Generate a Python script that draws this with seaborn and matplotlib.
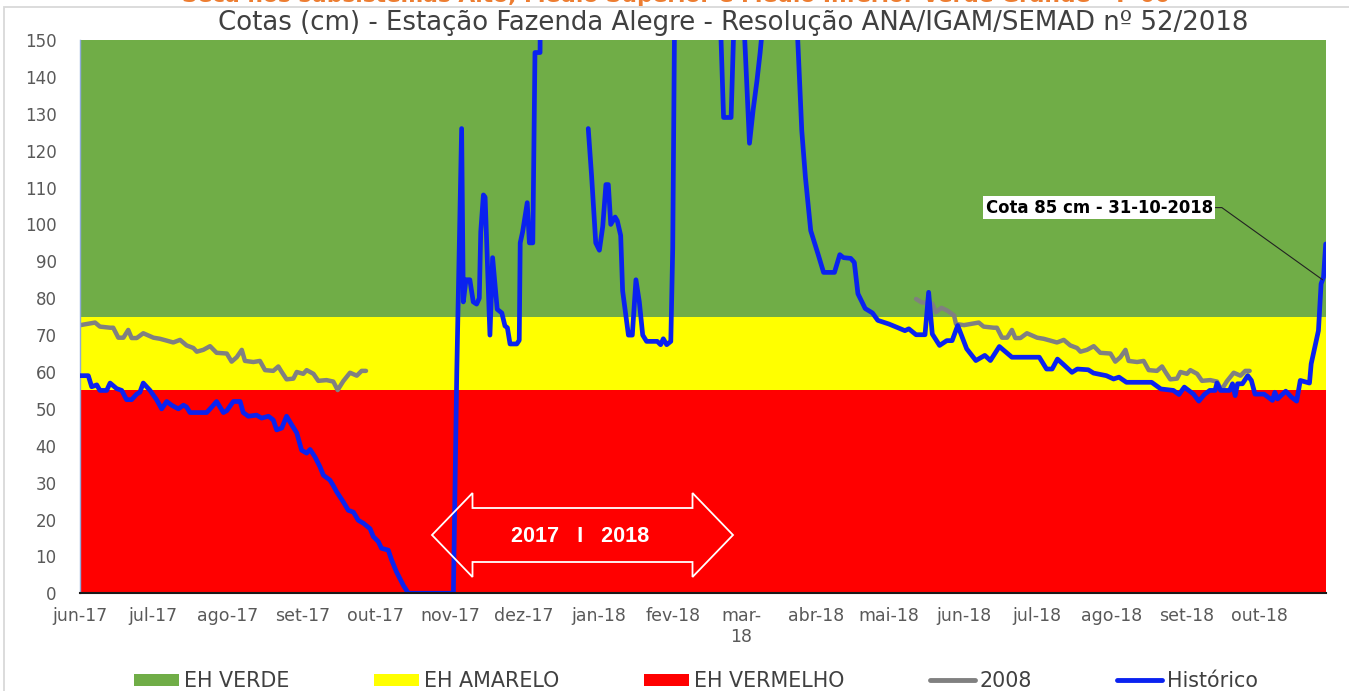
import numpy as np
import pandas as pd
import matplotlib
matplotlib.use("Agg")
import matplotlib.pyplot as plt
import matplotlib.dates as mdates
from matplotlib.patches import Patch, Rectangle, Polygon
from matplotlib.lines import Line2D
import seaborn as sns

# ---------------------------------------------------------------- data
inicio = pd.Timestamp("2017-06-01")
dias_eixo = 514.4            # last day shown on the axis (days after 2017-06-01)

meses_rotulos = ["jun-17", "jul-17", "ago-17", "set-17", "out-17", "nov-17",
                 "dez-17", "jan-18", "fev-18", "mar-\n18", "abr-18", "mai-18",
                 "jun-18", "jul-18", "ago-18", "set-18", "out-18"]
meses_inicio = pd.date_range("2017-06-01", "2018-10-01", freq="MS")
y_ticks = list(range(0, 151, 10))

# Estados hidrológicos (limites, cm)
eh_nomes = ["EH VERDE", "EH AMARELO", "EH VERMELHO"]
eh_inferior = [75, 55, 0]
eh_superior = [150, 75, 55]

# Série 2008 (dias relativos a 1º de junho), repetida em cada ano
serie2008_dia = [-19.8, -17.6, -13.1, -11.6, -9.3, -6.8, -4.1, -3.3,
                 0, 2.6, 6.1, 8.1, 12.3, 13.6, 15.7, 17.8, 19.8, 21.2,
                 23.3, 26.0, 30.2, 32.9, 35.7, 38.4, 41.2, 43.9, 46.7, 48.1,
                 50.8, 53.6, 56.3, 60.5, 62.5, 64.6, 66.7, 68.0, 71.5, 74.2,
                 76.3, 79.7, 81.8, 83.2, 85.2, 88.0, 89.4, 92.1, 93.5, 96.3,
                 98.3, 101.7, 104.5, 106.3, 108.6, 111.4, 114.2, 116.2, 118.0]
serie2008_cota = [79.8, 78.9, 78.5, 76.2, 77.4, 76.6, 75.3, 73,
                  72.7, 73, 73.4, 72.3, 72, 72, 69.3, 69.3, 71.4, 69.2,
                  69.2, 70.5, 69.3, 69, 68.5, 68, 68.7, 67.2, 66.5, 65.5,
                  66, 67, 65.2, 65, 62.8, 64, 66, 63, 62.7, 63,
                  60.5, 60.3, 61.5, 60, 58, 58.2, 60, 59.5, 60.5, 59.5,
                  57.6, 57.8, 57.4, 55.1, 57.5, 59.8, 59, 60.3, 60.3]
serie2008_anos = [2017, 2018]

# Série histórica (dias após 2017-06-01); NaN = falha de dados
hist_dia = [0, 3.3, 4.7, 6.8, 8.1, 10.9, 12.3, 15.0, 17.1, 19.1, 21.2, 23.3,
            24.6, 26.0, 28.8, 31.5, 33.6, 35.7, 37.7, 40.5, 42.6, 43.9, 45.3,
            52.2, 54.3, 56.3, 59.1, 60.5, 63.2, 66.0, 67.3, 69.4, 72.8, 74.9,
            77.7, 79.7, 81.1, 83.2, 85.2, 87.3, 89.4, 91.4, 93.5, 94.9, 96.9,
            99.0, 100.4, 103.1, 104.5, 105.9, 108.6, 110.7, 112.8, 114.8,
            116.9, 119.7, 121.0, 123.1, 124.4, 127.2, 128.6, 130.6, 133.4,
            135.5, 154.1,
            155.5, 157.5, 158.2, 159.3, 160.9, 162.3, 163.7, 164.8, 165.4,
            166.5, 167.2, 169.2, 170.3, 172.2, 174.1, 175.4, 176.4, 177.5,
            180.3, 181.3, 181.7, 182.7, 184.6, 185.5, 186.9, 187.8, 189.9,
            190.3,
            200.0,
            209.8, 211.2, 212.9, 214.4, 215.8, 217.1, 218.1, 219.1, 220.9,
            221.8, 223.2, 224.0, 226.4, 228.0, 229.5, 230.9, 232.3, 233.9,
            238.3, 239.7, 240.8, 242.2, 243.9, 244.7, 246.0,
            264.4, 265.7, 268.8, 270.0, 274.1, 276.4, 277.9, 279.5, 280.8,
            282.0, 296.0,
            298.0, 299.5, 301.7, 304.7, 307.0, 311.5, 313.7, 315.2, 318.2,
            319.7, 321.2, 324.2, 327.2, 329.4, 334.0, 337.7, 340.6, 342.2,
            345.2, 348.9, 350.4, 351.9, 354.9, 357.9, 360.1, 362.4, 366.1,
            369.9, 373.6, 375.9, 379.6, 384.8, 396.1, 399.1, 401.4, 403.6,
            405.8, 409.6, 411.8, 416.3, 418.5, 423.8, 426.8, 429.0, 432.1,
            442.5, 446.3, 451.5, 453.8, 456.0, 459.8, 462.0, 464.3, 466.5,
            468.7, 469.5, 471.0, 474.7, 475.9, 477.0, 478.0, 480.0, 482.2,
            483.7, 485.2, 488.9, 492.4, 493.4, 494.5, 497.9, 500.2, 502.4,
            503.9, 507.7, 508.4, 511.4, 512.5, 513.5, 514.4]
hist_cota = [59, 59, 56, 56.5, 55, 55, 57, 55.5, 55, 52.5, 52.5, 54,
             54.5, 57, 55, 52.5, 50, 52, 51, 50, 51, 50.5, 49,
             49, 50.5, 52, 49, 49.5, 52, 52, 49, 48, 48.3, 47.5,
             48, 47, 44.3, 44.8, 48, 45.7, 43.5, 38.8, 38, 39, 37,
             34.3, 32, 30.7, 29.2, 27.5, 24.8, 22.5, 22, 19.8,
             19, 17.5, 15.4, 14, 12.2, 11.7, 9, 5.8, 2.2,
             0, 0,
             60, 126, 79, 85, 85, 79, 78.4, 80, 98,
             108, 107.4, 70, 91, 77, 76, 72.5, 72, 67.6,
             67.6, 68.6, 95, 98, 105.9, 95, 95, 146.6, 146.6,
             200,
             np.nan,
             126, 113, 95, 93, 99.5, 110.8, 110.8, 100, 102,
             101, 97, 82, 70, 70, 85, 79, 70, 68.3,
             68.3, 67.4, 69, 67.4, 68.3, 93.6, 200,
             155, 129, 129, 155, 155, 122, 131, 139, 146.6,
             155, 155,
             125.4, 112.8, 98.3, 92, 87, 87, 91.8, 91, 90.8,
             89.7, 81.2, 77.2, 76, 74, 73, 72, 71.2, 71.7,
             70.1, 70.1, 81.6, 70.3, 67.2, 68.5, 68.5, 72.6, 66.3,
             63.1, 64.5, 63.1, 66.9, 64, 64, 60.8, 60.8, 63.5,
             62.2, 59.9, 60.8, 60.6, 59.7, 59, 58.1, 58.6, 57.2,
             57.2, 55.4, 55, 53.9, 55.9, 54, 52.1, 53.9, 55,
             55, 57, 55, 55, 56.8, 53.6, 56.8, 56.8, 59,
             57.7, 54, 54, 52.3, 54.5, 52.7, 54.8, 53.2, 52.1,
             57.7, 57, 62.2, 71.2, 83.9, 85.7, 94.7]
assert len(hist_dia) == len(hist_cota)
assert len(serie2008_dia) == len(serie2008_cota)

cota_anotada = 85
texto_anotacao = "Cota 85 cm - 31-10-2018"
texto_periodo = "2017   I   2018"
titulo = "Cotas (cm) - Estação Fazenda Alegre - Resolução ANA/IGAM/SEMAD nº 52/2018"
sobretitulo = "Seca nos subsistemas Alto, Médio Superior e Médio Inferior Verde Grande – P 00"
legenda_rotulos = ["EH VERDE", "EH AMARELO", "EH VERMELHO", "2008", "Histórico"]

# ---------------------------------------------------------------- style
COR_VERDE = "#70AD47"
COR_AMARELO = "#FFFF00"
COR_VERMELHO = "#FF0000"
COR_CINZA = "#808080"
COR_AZUL = "#0A22F0"
cores_eh = [COR_VERDE, COR_AMARELO, COR_VERMELHO]

sns.set_style("white")
plt.rcParams["font.family"] = ["DejaVu Sans"]

W, H = 1349, 691
fig = plt.figure(figsize=(W / 100, H / 100), dpi=100)
L, R, T, B = 80.3, 1325.7, 40.0, 593.3
ax = fig.add_axes([L / W, 1 - B / H, (R - L) / W, (B - T) / H])
renderer = fig.canvas.get_renderer()


def ajustar(texto, largura_px, **kw):
    t = fig.text(0, 0, texto, fontsize=10, **kw)
    w = t.get_window_extent(renderer=renderer).width
    t.remove()
    return 10 * largura_px / w


fim = inicio + pd.Timedelta(days=dias_eixo)

# faixas de estado hidrológico
for nome, lo, hi, cor in zip(eh_nomes, eh_inferior, eh_superior, cores_eh):
    ax.fill_between([inicio, fim], lo, hi, color=cor, lw=0, zorder=0)

# série 2008 (repetida para 2017 e 2018)
df08 = pd.concat([
    pd.DataFrame({
        "data": pd.Timestamp(f"{a}-06-01") + pd.to_timedelta(serie2008_dia, unit="D"),
        "cota": serie2008_cota,
        "ano": a,
    }) for a in serie2008_anos
])
sns.lineplot(data=df08, x="data", y="cota", units="ano", estimator=None,
             color=COR_CINZA, lw=3.2, ax=ax, legend=False, sort=False,
             solid_joinstyle="round", solid_capstyle="round", zorder=2)

# série histórica
hist = pd.DataFrame({"dia": hist_dia, "cota": hist_cota})
hist["trecho"] = hist["cota"].isna().cumsum()
hist = hist.dropna()
hist["data"] = inicio + pd.to_timedelta(hist["dia"], unit="D")
sns.lineplot(data=hist, x="data", y="cota", units="trecho", estimator=None,
             color=COR_AZUL, lw=3.4, ax=ax, legend=False, sort=False,
             solid_joinstyle="round", solid_capstyle="round", zorder=3)

# eixos
ax.set_xlim(inicio, fim)
ax.set_ylim(0, 150)
ax.set_xticks(meses_inicio)
ax.set_xticklabels(meses_rotulos)
ax.set_yticks(y_ticks)
ax.set_xlabel("")
ax.set_ylabel("")
ax.minorticks_off()
ax.tick_params(axis="x", direction="out", length=4, width=1.3, color="#262626",
               pad=6, labelsize=12.5, labelcolor="#595959")
ax.tick_params(axis="y", direction="out", length=6, width=1.0, color="#8EA9DB",
               pad=11, labelsize=12, labelcolor="#595959")
for s in ["top", "right"]:
    ax.spines[s].set_visible(False)
ax.spines["left"].set_color("#8EA9DB")
ax.spines["left"].set_linewidth(1.0)
ax.spines["bottom"].set_color("#1a1a1a")
ax.spines["bottom"].set_linewidth(1.5)
ax.spines["bottom"].set_zorder(5)

# seta dupla "2017 I 2018"
cx, cy = (582.5 - L) / (R - L), (B - 535) / (B - T)
sx, sy = 1 / (R - L), 1 / (B - T)
forma = [(-110, -27), (110, -27), (110, -42), (150.5, 0), (110, 42), (110, 27),
         (-110, 27), (-110, 42), (-150.5, 0), (-110, -42)]
ax.add_patch(Polygon([(cx + x * sx, cy + y * sy) for x, y in forma], closed=True,
                     fill=False, ec="white", lw=1.3, transform=ax.transAxes,
                     zorder=4))
fs_periodo = ajustar(texto_periodo, 138, family="Liberation Sans", fontweight="bold")
ax.text((580 - L) / (R - L), (B - 537) / (B - T), texto_periodo, transform=ax.transAxes,
        ha="center", va="center", color="white", fontweight="bold",
        family="Liberation Sans", fontsize=fs_periodo, zorder=5)

# anotação
dia85 = np.interp(cota_anotada, hist_cota[-4:], hist_dia[-4:])
x85 = mdates.date2num(inicio + pd.Timedelta(days=float(dia85)))
fs_anot = ajustar(texto_anotacao, 229, fontweight="bold")
ax.annotate(texto_anotacao, xy=(x85, cota_anotada), xycoords="data",
            xytext=((1099.3 - L) / (R - L), (B - 207.6) / (B - T)),
            textcoords="axes fraction", ha="center", va="center",
            fontsize=fs_anot, fontweight="bold", color="black",
            bbox=dict(boxstyle="square,pad=0.15", fc="white", ec="none"),
            arrowprops=dict(arrowstyle="-", color="#222222", lw=0.8,
                            shrinkA=0, shrinkB=0, relpos=(1, 0.5),
                            connectionstyle="arc,angleA=0,armA=9,angleB=0,armB=0,rad=0"),
            zorder=6)

# títulos
fs_tit = ajustar(titulo, 1030)
fig.text(733 / W, 1 - 23 / H, titulo, ha="center", va="center",
         fontsize=fs_tit, color="#404040")
fs_sob = ajustar(sobretitulo, 990, fontweight="bold")
fig.text(676 / W, 1 - 1.5 / H, sobretitulo, ha="center", va="baseline",
         fontsize=fs_sob, color="#ED7D31", fontweight="bold")

# moldura do gráfico
fig.add_artist(Rectangle((4 / W, -0.2), 1.2, 1.2 - 7 / H, transform=fig.transFigure,
                         fill=False, ec="#D9D9D9", lw=1.3))

# legenda
fs_leg = ajustar("EH VERMELHO", 150)
fs_px = fs_leg * 100 / 72
handles = [Patch(fc=c, ec="none") for c in cores_eh] + [
    Line2D([], [], color=COR_CINZA, lw=3.5),
    Line2D([], [], color=COR_AZUL, lw=3.5),
]
fig.legend(handles, legenda_rotulos, loc="center",
           bbox_to_anchor=(696 / W, 1 - 681 / H), ncol=5, frameon=False,
           fontsize=fs_leg, labelcolor="#404040", borderpad=0,
           handlelength=45 / fs_px, handletextpad=5 / fs_px,
           columnspacing=85 / fs_px, handleheight=0.5)

fig.savefig("out.png", dpi=100)
